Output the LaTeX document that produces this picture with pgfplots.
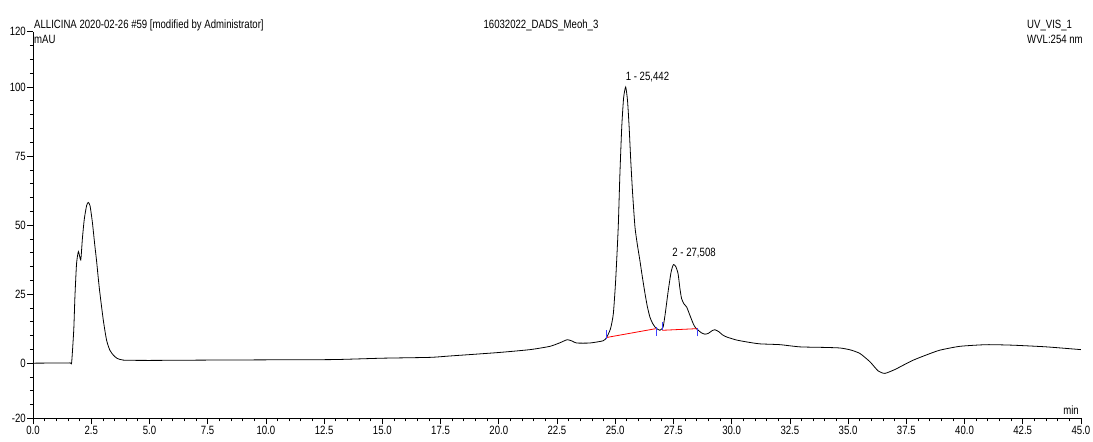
\documentclass[border=0pt]{standalone}
\usepackage{fontspec}
\setmainfont[FakeStretch=0.8]{Liberation Sans}
\usepackage{pgfplots}
\pgfplotsset{compat=1.18}
\begin{document}
\begin{tikzpicture}[x=1bp,y=1bp,font=\fontsize{12bp}{14bp}\selectfont]
\begin{axis}[
  at={(0,0)}, anchor=south west,
  scale only axis, width=1048bp, height=386.6bp,
  xmin=0, xmax=45, ymin=-20, ymax=120,
  axis x line=bottom, axis y line=left,
  axis line style={-, line width=0.8bp, black},
  xtick={0,2.5,...,45}, minor xtick={0,0.5,...,45},
  ytick={-20,0,25,50,75,100,120}, minor ytick={-15,-10,...,115},
  tick align=outside,
  major tick length=6bp, minor tick length=3bp,
  every tick/.style={black, line width=0.7bp},
  /pgf/number format/assume math mode=true,
  x tick label style={/pgf/number format/fixed, /pgf/number format/fixed zerofill, /pgf/number format/precision=1},
  xticklabel style={inner sep=1bp, yshift=-1bp},
  yticklabel style={inner sep=1bp},
  clip=true,
]
\addplot[black, line width=0.8bp, smooth, tension=0.35] coordinates {
(0,0) (1.0,0.05) (1.6,0.1) (1.66,0.3) (1.75,12) (1.8,24) (1.87,36) (1.95,40.4)
(2.05,37.4) (2.12,45) (2.2,52) (2.3,57) (2.37,58.2) (2.45,57) (2.55,51) (2.65,43)
(2.73,37) (2.85,27) (3.02,15.5) (3.16,8.3) (3.3,4.7) (3.45,2.9) (3.6,1.8) (3.88,1.1)
(5,1.0) (7.17,1.1) (10,1.2) (12.9,1.3) (15,1.8) (17.05,2.1) (17.9,2.6) (19.91,3.8)
(21.34,4.9) (22.2,6.1) (22.63,7.4) (22.94,8.5) (23.15,8.0) (23.34,7.3) (23.91,7.3)
(24.48,8.1) (24.63,9.3) (24.8,12.5) (24.92,17.9) (25.02,30) (25.13,49.2) (25.2,68)
(25.28,85.3) (25.36,96) (25.45,100) (25.53,95) (25.6,85.3) (25.67,73) (25.75,61.2)
(25.85,49.2) (25.95,43) (26.06,37.2) (26.17,31) (26.28,25.2) (26.38,20.5) (26.49,16.7)
(26.6,14.5) (26.71,13.1) (26.82,12.3) (26.92,11.9) (27.0,12.4) (27.06,13.1) (27.15,18)
(27.28,26.4) (27.4,33) (27.5,35.7) (27.6,35) (27.7,32.4) (27.78,27) (27.85,23.4)
(27.95,21.5) (28.07,20.3) (28.2,17.5) (28.35,14.3) (28.45,12.8) (28.57,11.9) (28.7,11.0)
(28.85,10.5) (29.0,10.8) (29.15,11.7) (29.28,12.1) (29.45,11.4) (29.6,10.3) (29.78,9.5)
(30.2,8.4) (30.64,7.7) (31.2,7.0) (32.07,6.7) (32.93,5.9) (34.0,5.7) (34.65,5.5)
(35.1,4.8) (35.51,3.5) (35.94,0.5) (36.29,-2.8) (36.58,-3.7) (37.01,-2.3) (37.4,-0.6)
(37.8,1.1) (38.4,3.1) (38.94,4.7) (39.8,6.1) (40.95,6.7) (42.1,6.5) (43.52,5.9) (45.0,4.9)
};
\addplot[red, line width=0.8bp] coordinates {(24.63,9.3) (26.75,12.5)};
\addplot[red, line width=0.8bp] coordinates {(27.02,11.9) (28.52,12.5)};
\addplot[blue!75!white, line width=0.8bp] coordinates {(24.63,8.6) (24.63,12)};
\addplot[blue!75!white, line width=0.8bp] coordinates {(26.75,10) (26.75,13.2)};
\addplot[blue!75!white, line width=0.8bp] coordinates {(27.02,12) (27.02,14.8)};
\addplot[blue!75!white, line width=0.8bp] coordinates {(28.52,9.7) (28.52,12.6)};
\node[anchor=base west, inner sep=0pt] at (axis cs:25.45,102.5) {1 - 25,442};
\node[anchor=base west, inner sep=0pt] at (axis cs:27.45,38.5) {2 - 27,508};
\draw[gray, line width=0.8bp] (rel axis cs:1,0) -- (rel axis cs:1,1);
\end{axis}
\node[anchor=base west, inner sep=0pt] at (1,390) {ALLICINA 2020-02-26 \#59 [modified by Administrator]};
\node[anchor=base west, inner sep=0pt] at (1,375) {mAU};
\node[anchor=base, inner sep=0pt] at (508,390) {16032022\_DADS\_Meoh\_3};
\node[anchor=base west, inner sep=0pt] at (994,390) {UV\_VIS\_1};
\node[anchor=base west, inner sep=0pt] at (994,375) {WVL:254 nm};
\node[anchor=base east, inner sep=0pt] at (1046,3.4) {min};
\pgfresetboundingbox
\path (-33,-23.6) rectangle (1060,418.4);
\end{tikzpicture}
\end{document}
